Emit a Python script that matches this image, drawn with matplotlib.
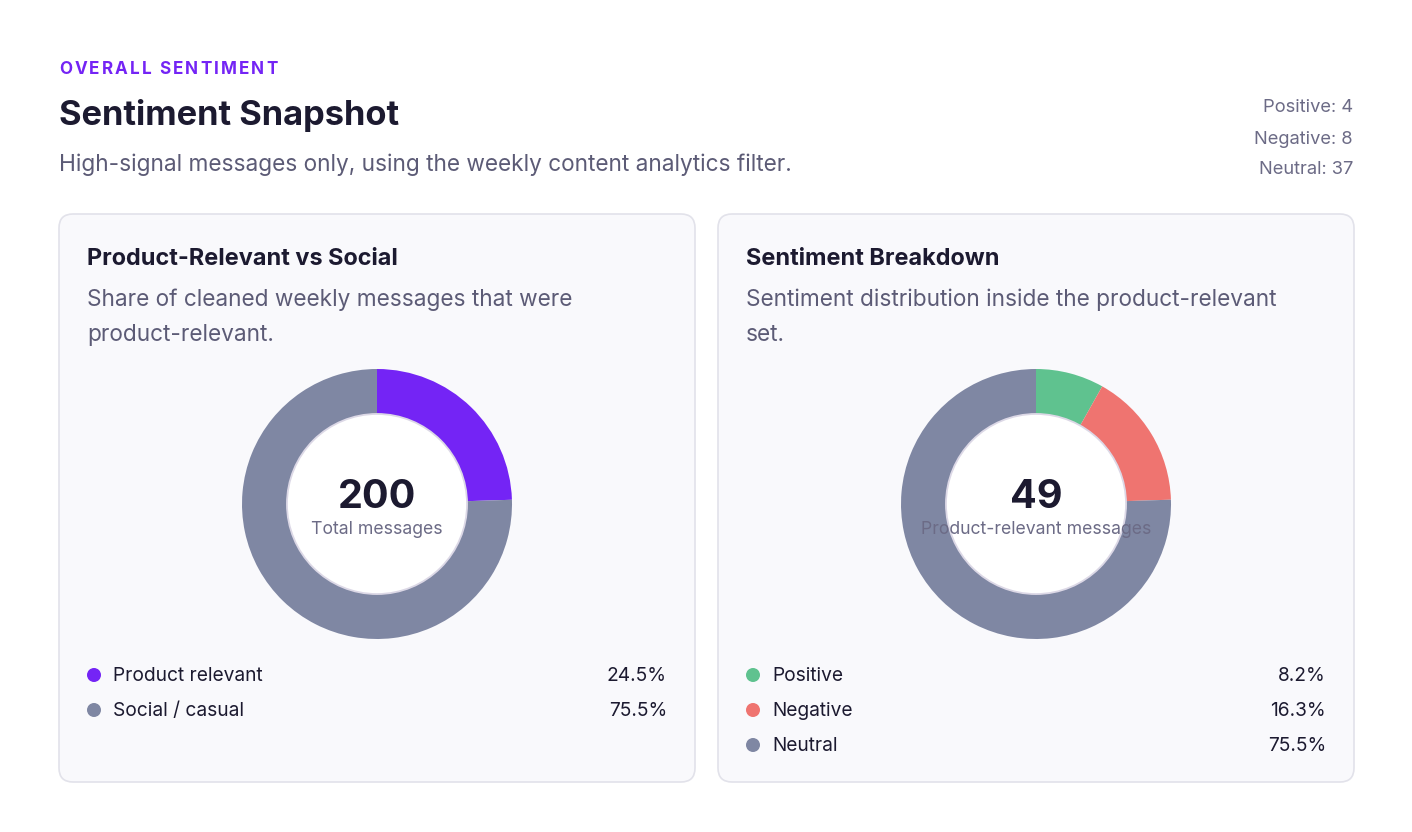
import matplotlib
matplotlib.use("Agg")
import matplotlib.pyplot as plt
from matplotlib.patches import FancyBboxPatch, Circle
from matplotlib.font_manager import FontProperties

plt.rcParams['font.family'] = ['Inter', 'DejaVu Sans']

# data
CARD_TITLES = ["Product-Relevant vs Social", "Sentiment Breakdown"]
CARD_SUBS = [["Share of cleaned weekly messages that were", "product-relevant."],
             ["Sentiment distribution inside the product-relevant", "set."]]
REL_LABELS = ["Product relevant", "Social / casual"]
REL_VALUES = [49, 151]
REL_COLORS = ["#7424f5", "#7f87a3"]
SENT_LABELS = ["Positive", "Negative", "Neutral"]
SENT_VALUES = [4, 8, 37]
SENT_COLORS = ["#5fc28f", "#ef7470", "#7f87a3"]
CENTER_LABELS = ["Total messages", "Product-relevant messages"]

W, H = 1412, 832
DARK = "#1c1a30"
MUTED = "#5c5b76"
SOFT = "#6c6b86"

fig = plt.figure(figsize=(W / 100, H / 100), dpi=100)
fig.patch.set_facecolor("white")
ax = fig.add_axes([0, 0, 1, 1])
ax.set_xlim(0, W); ax.set_ylim(H, 0); ax.axis("off")

# eyebrow label with letter spacing
renderer = fig.canvas.get_renderer()
fp = FontProperties(family=['Inter', 'DejaVu Sans'], weight='bold', size=12.3)
eyebrow = "OVERALL SENTIMENT"
x = 59
for ch in eyebrow:
    ax.text(x, 69.5, ch, fontproperties=fp, color="#7424f5", va="center", ha="left")
    w = renderer.get_text_width_height_descent(ch if ch != " " else "a a", fp, ismath=False)[0]
    if ch == " ":
        w = w - renderer.get_text_width_height_descent("aa", fp, ismath=False)[0]
    x += w + 2.1

ax.text(59, 115, "Sentiment Snapshot", fontsize=24.8, fontweight="bold", color=DARK, va="center")
ax.text(59, 165, "High-signal messages only, using the weekly content analytics filter.",
        fontsize=16.3, color=MUTED, va="center")

stats = [f"{l}: {v}" for l, v in zip(SENT_LABELS, SENT_VALUES)]
for i, s in enumerate(stats):
    ax.text(1353, 108 + 31 * i, s, fontsize=13.2, color=SOFT, va="center", ha="right")

cards_x = [59, 718]
card_w, card_top, card_h = 636, 214, 568
groups = [(REL_LABELS, REL_VALUES, REL_COLORS, sum(REL_VALUES)),
          (SENT_LABELS, SENT_VALUES, SENT_COLORS, sum(SENT_VALUES))]

for k, cx0 in enumerate(cards_x):
    ax.add_patch(FancyBboxPatch((cx0, card_top), card_w, card_h,
                                boxstyle="round,pad=0,rounding_size=14",
                                fc="#f9f9fc", ec="#e2e2ea", lw=1.2))
    ax.text(cx0 + 28, 259, CARD_TITLES[k], fontsize=16.9, fontweight="bold", color=DARK, va="center")
    for j, line in enumerate(CARD_SUBS[k]):
        ax.text(cx0 + 28, 300 + 35 * j, line, fontsize=16.3, color=MUTED, va="center")

    labels, values, colors, total = groups[k]
    dcx, dcy, r = cx0 + 318, 504, 135
    pax = fig.add_axes([(dcx - r) / W, (H - dcy - r) / H, 2 * r / W, 2 * r / H])
    pax.pie(values, colors=colors, startangle=90, counterclock=False, radius=1,
            wedgeprops=dict(width=1 / 3, linewidth=0))
    pax.add_patch(Circle((0, 0), 0.667, fc="white", ec="#dcd8e6", lw=1.3))
    pax.set_xlim(-1, 1); pax.set_ylim(-1, 1); pax.set_aspect("auto"); pax.axis("off")
    pax.text(0, 0.05, str(total), fontsize=28.5, fontweight="bold", color=DARK,
             ha="center", va="center")
    pax.text(0, -0.19, CENTER_LABELS[k], fontsize=12.7, color=SOFT, ha="center", va="center")

    for i, (lab, v, c) in enumerate(zip(labels, values, colors)):
        y = 676 + 35 * i
        ax.add_patch(Circle((cx0 + 35, y - 1), 7, fc=c, ec="none"))
        ax.text(cx0 + 54, y, lab, fontsize=13.8, color=DARK, va="center")
        ax.text(cx0 + 608, y, f"{100 * v / total:.1f}%", fontsize=13.8, color=DARK,
                va="center", ha="right")

fig.savefig("out.png", dpi=100, facecolor="white")
